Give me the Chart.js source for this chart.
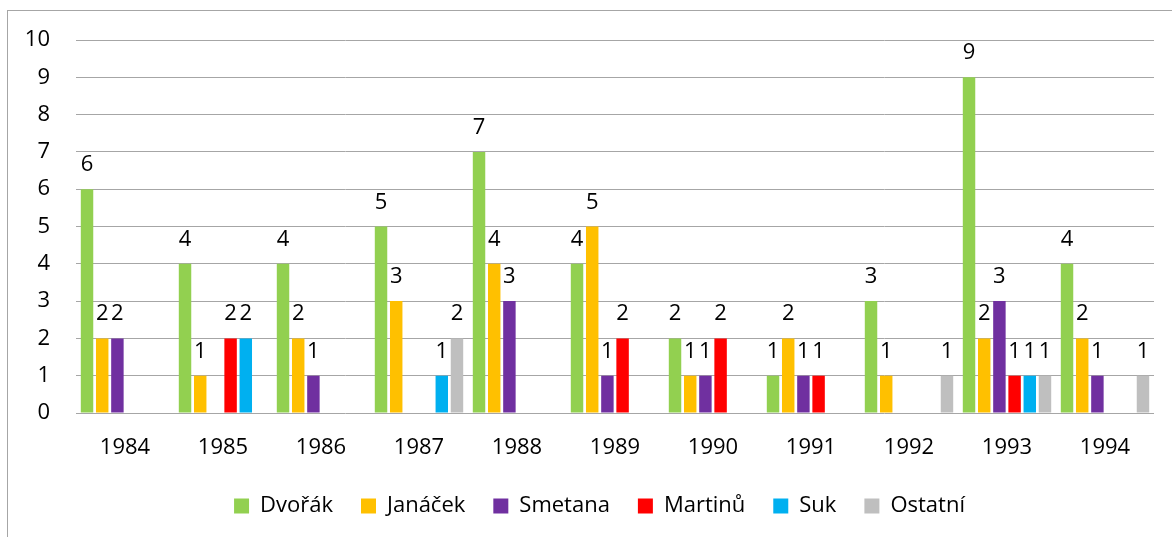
<!DOCTYPE html>
<html>
<head>
<meta charset="utf-8">
<script src="https://cdn.jsdelivr.net/npm/chart.js@4.4.1/dist/chart.umd.min.js"></script>
<style>
  html, body { margin: 0; padding: 0; background: #fff; overflow: hidden; }
  canvas { display: block; }
</style>
</head>
<body>
<canvas id="chart" width="1172" height="537"></canvas>
<script>
// Roky a počty skladeb podle skladatele
const years = ["1984", "1985", "1986", "1987", "1988", "1989", "1990", "1991", "1992", "1993", "1994"];
const dvorak   = [6, 4, 4, 5, 7, 4, 2, 1, 3, 9, 4];
const janacek  = [2, 1, 2, 3, 4, 5, 1, 2, 1, 2, 2];
const smetana  = [2, 0, 1, 0, 3, 1, 1, 1, 0, 3, 1];
const martinu  = [0, 2, 0, 0, 0, 2, 2, 1, 0, 1, 0];
const suk      = [0, 2, 0, 1, 0, 0, 0, 0, 0, 1, 0];
const ostatni  = [0, 0, 0, 2, 0, 0, 0, 0, 1, 1, 1];
const yTicks   = [0, 1, 2, 3, 4, 5, 6, 7, 8, 9, 10];

const FONT = "'Open Sans'";

// rámeček kolem grafu + bílé pozadí
const frame = {
    id: 'frame',
    beforeDraw(chart) {
        const c = chart.ctx;
        c.save();
        c.fillStyle = '#fff';
        c.fillRect(0, 0, chart.width, chart.height);
        c.strokeStyle = '#a6a6a6';
        c.lineWidth = 1;
        c.strokeRect(7.5, 10.5, 1400, 800);
        c.restore();
    }
};

// legenda je v originále trochu vpravo od středu
const legendShift = {
    id: 'legendShift',
    afterLayout(chart) {
        if (chart.legend) {
            chart.legend.left += 10;
            chart.legend.right += 10;
        }
    }
};

// popisky hodnot nad sloupci (nuly se nezobrazují)
const valueLabels = {
    id: 'valueLabels',
    afterDatasetsDraw(chart) {
        const c = chart.ctx;
        c.save();
        c.font = '22px ' + FONT;
        c.fillStyle = '#000';
        c.textAlign = 'center';
        c.textBaseline = 'alphabetic';
        chart.data.datasets.forEach((ds, i) => {
            chart.getDatasetMeta(i).data.forEach((bar, j) => {
                const v = ds.data[j];
                if (!v) return;
                c.fillText(String(v), bar.x, bar.y - 18);
            });
        });
        c.restore();
    }
};

const mk = (label, data, color) => ({ label, data, backgroundColor: color, borderWidth: 0 });

new Chart(document.getElementById('chart'), {
    type: 'bar',
    data: {
        labels: years,
        datasets: [
            mk('Dvořák', dvorak, '#92d050'),
            mk('Janáček', janacek, '#ffc000'),
            mk('Smetana', smetana, '#7030a0'),
            mk('Martinů', martinu, '#ff0000'),
            mk('Suk', suk, '#00b0f0'),
            mk('Ostatní', ostatni, '#bfbfbf')
        ]
    },
    options: {
        responsive: false,
        devicePixelRatio: 1,
        animation: false,
        events: [],
        categoryPercentage: 0.93,
        barPercentage: 0.82,
        layout: { padding: { top: 40, left: 25, right: 18, bottom: 10 } },
        plugins: {
            tooltip: { enabled: false },
            legend: {
                position: 'bottom',
                labels: {
                    boxWidth: 15,
                    boxHeight: 15,
                    padding: 28,
                    color: '#000',
                    font: { family: FONT, size: 22 }
                }
            }
        },
        scales: {
            x: {
                grid: { display: false },
                border: { display: false },
                ticks: { color: '#000', padding: 14, font: { family: FONT, size: 22 } },
                afterFit: (s) => { s.height = 54; }
            },
            y: {
                min: 0,
                max: 10,
                afterBuildTicks: (s) => { s.ticks = yTicks.map(v => ({ value: v })); },
                grid: { color: '#a6a6a6', lineWidth: 1, drawTicks: false },
                border: { display: false },
                ticks: { color: '#000', padding: 26, font: { family: FONT, size: 22 } },
                afterFit: (s) => { s.width = 51; }
            }
        }
    },
    plugins: [frame, legendShift, valueLabels]
});
</script>
</body>
</html>
